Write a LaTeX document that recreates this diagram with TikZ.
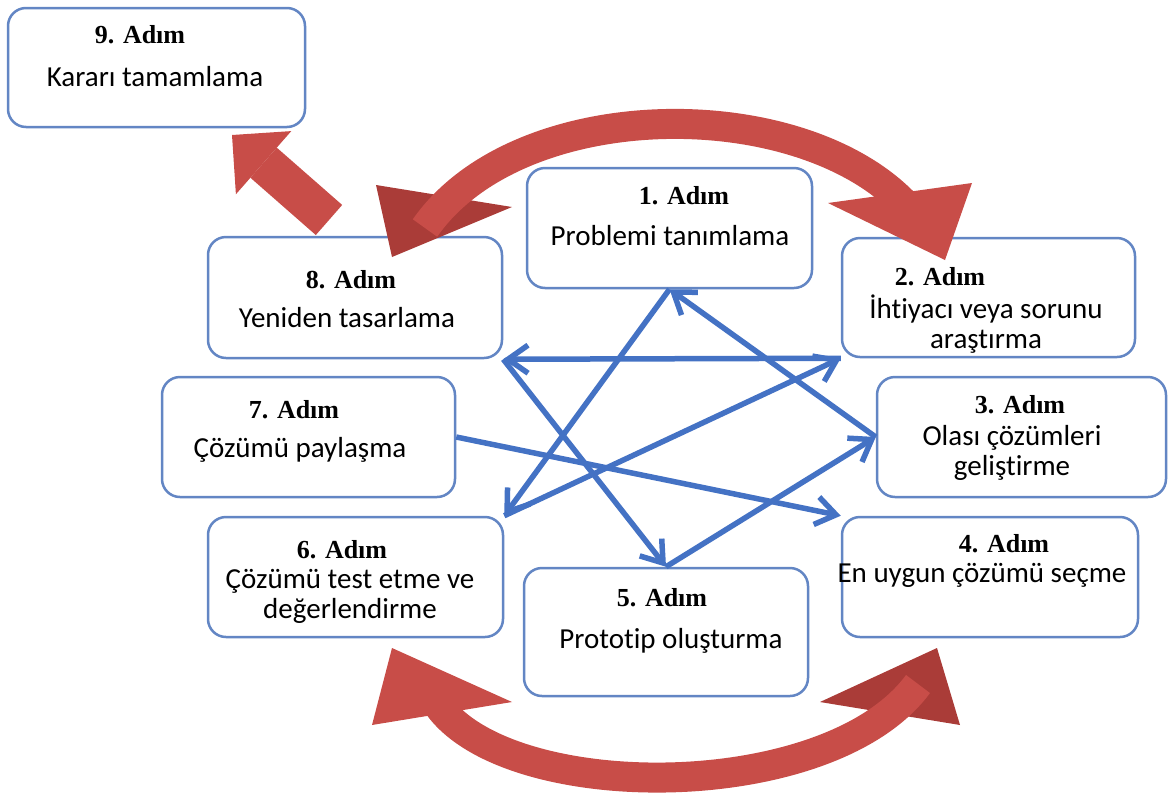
\documentclass[tikz,border=0pt]{standalone}
\usepackage{fontspec}
\setmainfont{Carlito}[Ligatures=NoCommon]
\newfontfamily\adimfont{Liberation Serif}
\usetikzlibrary{arrows.meta}

\definecolor{boxblue}{RGB}{99,134,196}
\definecolor{linkblue}{RGB}{68,114,196}
\definecolor{turnred}{RGB}{200,77,72}
\definecolor{turndark}{RGB}{170,60,56}

\begin{document}
\begin{tikzpicture}[x=1pt,y=-1pt]
  \tikzstyle{stepbox}=[draw=boxblue,line width=2.5pt,rounded corners=18pt,fill=white]
  \tikzstyle{adimtitle}=[font=\adimfont\bfseries\fontsize{26}{30}\selectfont,inner sep=0pt,anchor=base]
  \tikzstyle{adimtext}=[font=\fontsize{29}{30}\selectfont,align=center,inner sep=0pt,anchor=base]
  \tikzstyle{bluelink}=[draw=linkblue,line width=5.5pt,-{Straight Barb[length=20pt,width=28pt]}]
  \tikzstyle{redarc}=[draw=turnred,line width=30pt]
  \useasboundingbox (0,0) rectangle (1168,796);
  % Step boxes
  \node[stepbox,minimum width=297pt,minimum height=119pt] (s9) at (156.5,67.5) {};
  \node[stepbox,minimum width=285pt,minimum height=120pt] (s1) at (669.5,228) {};
  \node[stepbox,minimum width=294pt,minimum height=121pt] (s8) at (355,297.5) {};
  \node[stepbox,minimum width=293pt,minimum height=119pt] (s2) at (988.5,297.5) {};
  \node[stepbox,minimum width=293pt,minimum height=120pt] (s7) at (308.5,437) {};
  \node[stepbox,minimum width=289pt,minimum height=120pt] (s3) at (1021.5,437) {};
  \node[stepbox,minimum width=295pt,minimum height=120pt] (s6) at (355.5,577) {};
  \node[stepbox,minimum width=296pt,minimum height=120pt] (s4) at (990,577) {};
  \node[stepbox,minimum width=284pt,minimum height=128pt] (s5) at (666,632) {};
  % Step texts (base = last line)
  \node[adimtitle] (t9) at (140,43) {9. Adım};
  \node[adimtext] (d9) at (155,86) {Kararı tamamlama};
  \node[adimtitle] (t1) at (684,204) {1. Adım};
  \node[adimtext] (d1) at (670,245) {Problemi tanımlama};
  \node[adimtitle] (t8) at (351,288) {8. Adım};
  \node[adimtext] (d8) at (347,327) {Yeniden tasarlama};
  \node[adimtitle] (t2) at (940,285) {2. Adım};
  \node[adimtext] (d2) at (986,348) {İhtiyacı veya sorunu\\araştırma};
  \node[adimtitle] (t7) at (294,418) {7. Adım};
  \node[adimtext] (d7) at (300,457) {Çözümü paylaşma};
  \node[adimtitle] (t3) at (1020,413) {3. Adım};
  \node[adimtext] (d3) at (1012,475) {Olası çözümleri\\geliştirme};
  \node[adimtitle] (t6) at (342,558) {6. Adım};
  \node[adimtext] (d6) at (350,618) {Çözümü test etme ve\\değerlendirme};
  \node[adimtitle] (t4) at (1004,552) {4. Adım};
  \node[adimtext] (d4) at (982,582) {En uygun çözümü seçme};
  \node[adimtitle] (t5) at (662,606) {5. Adım};
  \node[adimtext] (d5) at (671,648) {Prototip oluşturma};
  % Blue links
  \draw[bluelink] (s1.south) -- (s6.north east);
  \draw[bluelink] (s6.north east) -- (s2.south west);
  \draw[bluelink] (s2.south west) -- (s8.south east);
  \draw[bluelink] (s8.south east) -- (s5.north);
  \draw[bluelink] (s5.north) -- (s3.west);
  \draw[bluelink] (s3.west) -- (s1.south);
  \draw[bluelink] (s7.east) -- (s4.north west);
  % Red turning arrows
  \coordinate (r8) at (329,220);
  \coordinate (r9) at (232,135);
  \draw[redarc,line width=40pt,-{Triangle[length=42pt,width=84pt,line width=0pt]}] (r8) -- (r9);
  % top: 8 <-> 2
  \coordinate (tl) at (425,228);
  \coordinate (tr) at (912,212);
  \fill[turndark] (376,185) -- (512,207) -- (392,257) -- cycle;
  \fill[turnred] (828,203) -- (972,183) -- (945,260) -- cycle;
  \draw[redarc] (tl) .. controls (520,92) and (810,92) .. (tr);
  % bottom: 6 <-> 4
  \coordinate (bl) at (438,705);
  \coordinate (br) at (918,684);
  \fill[turnred] (392,648) -- (372,725) -- (512,702) -- cycle;
  \fill[turndark] (937,648) -- (820,702) -- (960,725) -- cycle;
  \draw[redarc] (bl) .. controls (509,805) and (829,805) .. (br);
\end{tikzpicture}
\end{document}
